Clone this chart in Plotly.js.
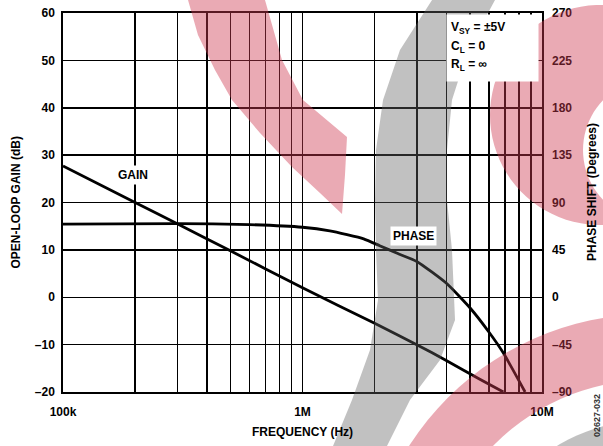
<!DOCTYPE html>
<html><head><meta charset="utf-8">
<script src="https://cdn.plot.ly/plotly-3.0.1.min.js"></script>
<style>html,body{margin:0;padding:0;background:#fff}</style>
</head><body>
<div id="chart" style="width:603px;height:446px"></div>
<script>
// Data
const gainFreq  = [1e5, 2e5, 3e5, 5e5, 1e6, 2e6, 3e6, 4e6, 5.5e6, 6.9e6];
const gainDb    = [27.7, 20.0, 15.5, 9.8, 2.0, -5.5, -10.0, -13.4, -17.3, -20];
const phaseFreq = [1e5, 3e5, 6e5, 1e6, 1.3e6, 1.8e6, 2.1e6, 2.5e6, 3e6, 4e6, 5e6, 6e6, 6.9e6, 8.5e6];
const phaseDeg  = [69.5, 70.0, 69.0, 66.5, 63.0, 55.5, 49.0, 41.5, 34.0, 13.0, -10.0, -33.0, -53.0, -90];

const xTickVals = [1e5,2e5,3e5,4e5,5e5,6e5,7e5,8e5,9e5,1e6,2e6,3e6,4e6,5e6,6e6,7e6,8e6,9e6,1e7];
const xTickText = ['100k','','','','','','','','','1M','','','','','','','','','10M'];
const gainTickVals = [-20,-10,0,10,20,30,40,50,60];
const gainTickText = ['–20','–10','0','10','20','30','40','50','60'];
const phaseTickVals = [-90,-45,0,45,90,135,180,225,270];
const phaseTickText = ['–90','–45','0','45','90','135','180','225','270'];

const F = 'Liberation Sans, Arial, sans-serif';
const font = {family: F, size: 12, color: '#000', weight: 'bold'};

// --- decorative watermark helpers (pixel -> paper) ---
const L = 63, R = 542, T = 13, B = 392;
const px = X => (X - L) / (R - L);
const py = Y => (B - Y) / (B - T);
function poly(pts) {
  return 'M' + pts.map(p => px(p[0]).toFixed(4) + ',' + py(p[1]).toFixed(4)).join(' L') + ' Z';
}
function circ(cx, cy, r, n) {
  const a = [];
  for (let i = 0; i < n; i++) { const t = 2 * Math.PI * i / n; a.push([cx + r * Math.cos(t), cy + r * Math.sin(t)]); }
  return a;
}
const pink = 'rgb(207,57,80)', gray = 'rgb(100,100,100)';
const wm = [
  {path: poly([[188,0],[198,35],[215,70],[232,100],[260,133],[292,167],[320,193],[342,214],[345,175],[347,137],[303,100],[282,60],[265,0]]), c: pink, o: 0.43},
  {path: poly(circ(600,115,110,90)) + ' ' + poly(circ(655,150,72,90)), c: pink, o: 0.43},
  {path: poly([[432,0],[400,50],[383,100],[376,150],[375,200],[376,250],[378,300],[370,350],[352,400],[333,446],[387,446],[410,400],[440,360],[455,320],[452,250],[447,200],[447,150],[452,100],[468,50],[495,0]]), c: gray, o: 0.4},
  {path: poly(circ(650,600,286,120)) + ' ' + poly(circ(650,600,220,120)), c: pink, o: 0.43},
  {path: poly(circ(650,600,180,120)), c: gray, o: 0.4}
];

const traces = [
  {x: gainFreq, y: gainDb, type: 'scatter', mode: 'lines', yaxis: 'y',
   line: {color: '#000', width: 2.8, shape: 'spline', smoothing: 0.5}, hoverinfo: 'skip'},
  {x: phaseFreq, y: phaseDeg, type: 'scatter', mode: 'lines', yaxis: 'y2',
   line: {color: '#000', width: 2.8, shape: 'spline', smoothing: 0.5}, hoverinfo: 'skip'}
];

const shapes = wm.map(w => ({type: 'path', xref: 'paper', yref: 'paper', path: w.path,
   fillcolor: w.c, opacity: w.o, line: {width: 0}, layer: 'above', fillrule: 'evenodd'}));

const layout = {
  width: 603, height: 446,
  margin: {l: 63, r: 61, t: 13, b: 54},
  paper_bgcolor: '#fff', plot_bgcolor: '#fff',
  showlegend: false,
  font: font,
  xaxis: {type: 'log', range: [5, 7], tickvals: xTickVals, ticktext: xTickText,
    showgrid: true, gridcolor: '#000', gridwidth: 1.5, zeroline: false,
    showline: true, mirror: true, linecolor: '#000', linewidth: 1.7,
    ticks: '', tickfont: font, ticklabelstandoff: 8},
  yaxis: {range: [-20, 60], tickvals: gainTickVals, ticktext: gainTickText,
    showgrid: true, gridcolor: '#000', gridwidth: 1.5, zeroline: false,
    showline: true, mirror: true, linecolor: '#000', linewidth: 1.7,
    ticks: '', tickfont: font, ticklabelstandoff: 4},
  yaxis2: {range: [-90, 270], tickvals: phaseTickVals, ticktext: phaseTickText,
    overlaying: 'y', side: 'right', showgrid: false, zeroline: false,
    showline: false, ticks: '', tickfont: font, ticklabelstandoff: 9},
  shapes: shapes,
  annotations: [
    {xref: 'paper', yref: 'paper', x: px(446), y: py(14), text: ' ', width: 91, height: 66,
     bgcolor: '#fff', borderpad: 0, showarrow: false, xanchor: 'left', yanchor: 'top', font: font},
    {xref: 'paper', yref: 'paper', x: -0.1002, y: 0.50, text: 'OPEN-LOOP GAIN (dB)', textangle: -90,
     showarrow: false, xanchor: 'center', yanchor: 'middle', font: font},
    {xref: 'paper', yref: 'paper', x: 1.1046, y: 0.528, text: 'PHASE SHIFT (Degrees)', textangle: -90,
     showarrow: false, xanchor: 'center', yanchor: 'middle', font: font},
    {xref: 'paper', yref: 'paper', x: 0.501, y: -0.105, text: 'FREQUENCY (Hz)',
     showarrow: false, xanchor: 'center', yanchor: 'middle', font: font},
    {xref: 'paper', yref: 'paper', x: 0.146, y: 0.572, text: 'GAIN', bgcolor: '#fff', borderpad: 2,
     showarrow: false, xanchor: 'center', yanchor: 'middle', font: font},
    {xref: 'paper', yref: 'paper', x: 0.7307, y: 0.4116, text: 'PHASE', bgcolor: '#fff', borderpad: 2,
     showarrow: false, xanchor: 'center', yanchor: 'middle', font: font},
    {xref: 'paper', yref: 'paper', x: 0.806, y: 0.960, text: 'V<sub>SY</sub> = ±5V',
     showarrow: false, xanchor: 'left', yanchor: 'middle', font: font},
    {xref: 'paper', yref: 'paper', x: 0.806, y: 0.911, text: 'C<sub>L</sub> = 0',
     showarrow: false, xanchor: 'left', yanchor: 'middle', font: font},
    {xref: 'paper', yref: 'paper', x: 0.806, y: 0.862, text: 'R<sub>L</sub> = ∞',
     showarrow: false, xanchor: 'left', yanchor: 'middle', font: font},
    {xref: 'paper', yref: 'paper', x: 1.1148, y: -0.0607, text: '02627-032', textangle: -90,
     showarrow: false, xanchor: 'center', yanchor: 'middle',
     font: {family: F, size: 9, color: '#333'}}
  ]
};

Plotly.newPlot('chart', traces, layout, {displayModeBar: false, staticPlot: true});
</script>
</body></html>
